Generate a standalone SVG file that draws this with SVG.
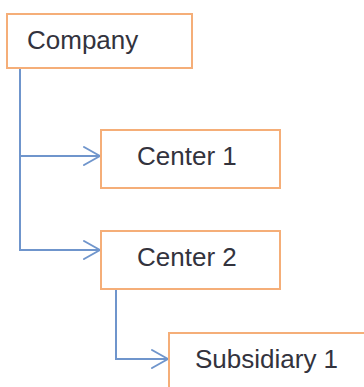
<svg xmlns="http://www.w3.org/2000/svg" width="364" height="387" viewBox="0 0 364 387">
<style>
.box{fill:#fff;stroke:#F5AE78;stroke-width:2}
.lbl{font-family:"Liberation Sans",Arial,sans-serif;font-size:26px;fill:#33333d}
.conn{fill:none;stroke:#6F95CC;stroke-width:2}
.head{fill:none;stroke:#6F95CC;stroke-width:2;stroke-linecap:round;stroke-linejoin:round}
</style>
<rect width="364" height="387" fill="#fff"/>
<g id="connectors">
<path class="conn" d="M20 68 V250 H100"/>
<path class="conn" d="M20 156 H100"/>
<path class="head" d="M84 147 L100 156 L84 165"/>
<path class="head" d="M84 241 L100 250 L84 259"/>
<path class="conn" d="M116 289 V359 H168"/>
<path class="head" d="M152 350 L168 359 L152 368"/>
</g>
<g id="company">
<rect class="box" x="7" y="14" width="185" height="54"/>
<text class="lbl" x="27" y="49">Company</text>
</g>
<g id="center1">
<rect class="box" x="101" y="130" width="179" height="58"/>
<text class="lbl" x="137" y="165">Center 1</text>
</g>
<g id="center2">
<rect class="box" x="101" y="231" width="179" height="58"/>
<text class="lbl" x="137" y="266">Center 2</text>
</g>
<g id="subsidiary1">
<rect class="box" x="169" y="333" width="210" height="70"/>
<text class="lbl" x="195" y="368">Subsidiary 1</text>
</g>
</svg>
